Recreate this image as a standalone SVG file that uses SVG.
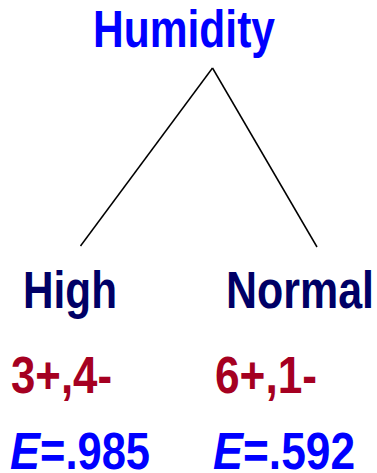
<svg xmlns="http://www.w3.org/2000/svg" width="377" height="473" viewBox="0 0 377 473">
<style>
text{font-family:"Liberation Sans",Arial,sans-serif;font-weight:bold;font-size:51px}
.root{fill:#0000FF}
.val{fill:#000066}
.cnt{fill:#A50021}
.ent{fill:#0000FF}
.it{font-style:italic}
.edge{stroke:#000;stroke-width:1.5;fill:none}
</style>
<rect width="377" height="473" fill="#fff"/>
<g id="connectors">
<line class="edge" x1="212.5" y1="68" x2="80.5" y2="246"/>
<line class="edge" x1="212.5" y1="68" x2="317" y2="247"/>
</g>
<g id="humidity"><text class="root" x="93" y="47" textLength="182" lengthAdjust="spacingAndGlyphs">Humidity</text></g>
<g id="high">
<text class="val" x="23" y="308" textLength="94" lengthAdjust="spacingAndGlyphs">High</text>
<text class="cnt" x="11" y="393" textLength="101" lengthAdjust="spacingAndGlyphs">3+,4-</text>
<text class="ent it" x="10" y="469" textLength="30" lengthAdjust="spacingAndGlyphs">E</text>
<text class="ent" x="40" y="469" textLength="110" lengthAdjust="spacingAndGlyphs">=.985</text>
</g>
<g id="normal">
<text class="val" x="226" y="308" textLength="148" lengthAdjust="spacingAndGlyphs">Normal</text>
<text class="cnt" x="215" y="393" textLength="102" lengthAdjust="spacingAndGlyphs">6+,1-</text>
<text class="ent it" x="213" y="469" textLength="30" lengthAdjust="spacingAndGlyphs">E</text>
<text class="ent" x="243" y="469" textLength="112" lengthAdjust="spacingAndGlyphs">=.592</text>
</g>
</svg>
